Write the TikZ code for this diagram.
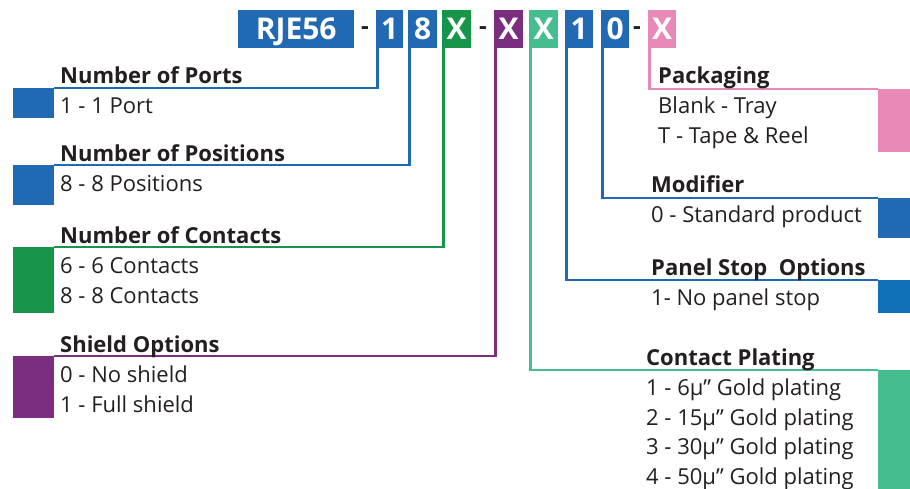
\documentclass[tikz,border=0pt]{standalone}
\usepackage{fontspec}
\setmainfont{Open Sans}
\definecolor{cBlue}{HTML}{2269B3}
\definecolor{cBlueB}{HTML}{1071B9}
\definecolor{cGreen}{HTML}{17964A}
\definecolor{cPurple}{HTML}{7B2D80}
\definecolor{cTeal}{HTML}{45BD8F}
\definecolor{cPink}{HTML}{E889B7}
\definecolor{txt}{HTML}{231F20}
\begin{document}
\begin{tikzpicture}[x=1pt,y=-1pt,
  hdr/.style={fill=#1, text=white, font=\fontsize{30}{30}\selectfont\bfseries, minimum height=38, text height=21, text depth=0, inner sep=0, anchor=north west},
  hyph/.style={text=txt, font=\fontsize{24}{24}\selectfont\bfseries, inner sep=0},
  sq/.style={fill=#1, inner sep=0, anchor=north west},
  ttl/.style={anchor=base west, inner sep=0, font=\fontsize{22}{22}\selectfont\bfseries, text=txt},
  itm/.style={anchor=base west, inner sep=0, font=\fontsize{22}{22}\selectfont, text=txt},
  conn/.style={draw=#1, line width=2.2}]
\useasboundingbox (0,0) rectangle (910,488);
\fill[white] (0,0) rectangle (910,488);
% header
\node[hdr=cBlue, minimum width=116] (rje) at (238,10) {RJE56};
\node[hyph] (d1) at (365,31) {-};
\node[hdr=cBlue, minimum width=27] (h1) at (376,10) {1};
\node[hdr=cBlue, minimum width=29] (h8) at (408,10) {8};
\node[hdr=cGreen, minimum width=29] (hG) at (442,10) {X};
\node[hyph] (d2) at (483,31) {-};
\node[hdr=cPurple, minimum width=29] (hP) at (494,10) {X};
\node[hdr=cTeal, minimum width=29] (hT) at (529,10) {X};
\node[hdr=cBlue, minimum width=28] (h1b) at (565,10) {1};
\node[hdr=cBlue, minimum width=28] (h0) at (601,10) {0};
\node[hyph] (d3) at (637,31) {-};
\node[hdr=cPink, minimum width=28] (hK) at (648,10) {X};
% squares
\node[sq=cBlue, minimum width=41, minimum height=30] (sqPorts) at (13,88) {};
\node[sq=cBlue, minimum width=41, minimum height=40] (sqPos) at (13,165) {};
\node[sq=cGreen, minimum width=41, minimum height=66] (sqCont) at (13,247) {};
\node[sq=cPurple, minimum width=41, minimum height=62] (sqShield) at (13,356) {};
\node[sq=cPink, minimum width=32, minimum height=63] (sqPack) at (878,89) {};
\node[sq=cBlue, minimum width=32, minimum height=40] (sqMod) at (878,198) {};
\node[sq=cBlueB, minimum width=32, minimum height=33] (sqPanel) at (878,280) {};
\node[sq=cTeal, minimum width=32, minimum height=120] (sqPlat) at (878,370) {};
% connectors
\draw[conn=cBlue] ([xshift=1.5]h1.south west) |- (sqPorts.north east);
\draw[conn=cBlue] ([xshift=1.5]h8.south west) |- (sqPos.north east);
\draw[conn=cGreen] ([xshift=1.5]hG.south west) |- (sqCont.north east);
\draw[conn=cPurple] ([xshift=1.5]hP.south west) |- (sqShield.north east);
\draw[conn=cTeal] ([xshift=1.5]hT.south west) |- (sqPlat.north west);
\draw[conn=cBlue] ([xshift=1.5]h1b.south west) |- (sqPanel.north west);
\draw[conn=cBlue] ([xshift=1.5]h0.south west) |- (sqMod.north west);
\draw[conn=cPink] ([xshift=1.5]hK.south west) |- (sqPack.north west);
% left texts
\node[ttl] (tPorts) at (60,83) {Number of Ports};
\node[itm] (iPorts) at (60,113) {1 - 1 Port};
\node[ttl] (tPos) at (60,161) {Number of Positions};
\node[itm] (iPos) at (60,191) {8 - 8 Positions};
\node[ttl] (tCont) at (60,243) {Number of Contacts};
\node[itm] (iCont1) at (60,273) {6 - 6 Contacts};
\node[itm] (iCont2) at (60,303) {8 - 8 Contacts};
\node[ttl] (tShield) at (60,352) {Shield Options};
\node[itm] (iShield1) at (60,382) {0 - No shield};
\node[itm] (iShield2) at (60,412) {1 - Full shield};
% right texts
\node[ttl] (tPack) at (658,83) {Packaging};
\node[itm] (iPack1) at (658,113) {Blank - Tray};
\node[itm] (iPack2) at (658,143) {T - Tape \& Reel};
\node[ttl] (tMod) at (651,192) {Modifier};
\node[itm] (iMod) at (651,222) {0 - Standard product};
\node[ttl] (tPanel) at (651,275) {Panel Stop\ \ Options};
\node[itm] (iPanel) at (651,305) {1- No panel stop};
\node[ttl] (tPlat) at (646,365) {Contact Plating};
\node[itm] (iPlat1) at (646,395) {1 - 6µ” Gold plating};
\node[itm] (iPlat2) at (646,425) {2 - 15µ” Gold plating};
\node[itm] (iPlat3) at (646,454) {3 - 30µ” Gold plating};
\node[itm] (iPlat4) at (646,484) {4 - 50µ” Gold plating};
\end{tikzpicture}
\end{document}
